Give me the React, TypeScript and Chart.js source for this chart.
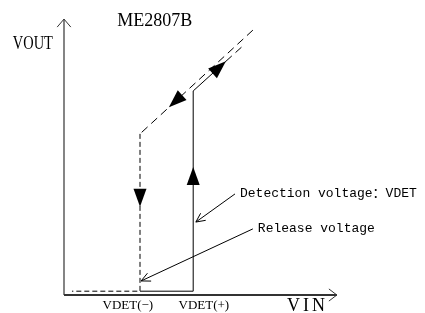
import React, { useEffect, useRef } from "react";
import { Chart, registerables } from "chart.js";

Chart.register(...registerables);

// ---- diagram values (VIN / VOUT in arbitrary units) ----
const VDET_MINUS = 2.0;
const VDET_PLUS = 3.4;
const VOUT_LOW = 0.1;

// axes (with open chevron heads)
const xAxisX = [0, 7.18];
const xAxisY = [0, 0];
const xHeadX = [6.97, 7.18, 6.97];
const xHeadY = [0.16, 0, -0.16];
const yAxisX = [0, 0];
const yAxisY = [0, 7.26];
const yHeadX = [-0.18, 0, 0.18];
const yHeadY = [7.05, 7.26, 7.05];

// rising branch (solid): low until VDET(+), jump, then follow VIN
const riseX = [VDET_MINUS, VDET_PLUS, VDET_PLUS, 4.26];
const riseY = [VOUT_LOW, VOUT_LOW, 5.37, 6.15];
const riseExtX = [4.26, 4.68];
const riseExtY = [6.15, 6.53];

// falling branch (dashed): follow VIN down to VDET(-), drop, then low
const fallX = [4.97, VDET_MINUS, VDET_MINUS, 0.21];
const fallY = [6.97, 4.24, VOUT_LOW, VOUT_LOW];

// filled direction arrows: tip + a point behind it on the path
const arrowTipX = [VDET_PLUS, VDET_MINUS, 2.76, 4.26];
const arrowTipY = [3.37, 2.32, 4.94, 6.15];
const arrowFromX = [VDET_PLUS, VDET_MINUS, 4.97, VDET_PLUS];
const arrowFromY = [0, 5, 6.97, 5.37];

// annotation leaders
const leaderLabels = ["Detection voltage：VDET", "Release voltage"];
const leaderStartX = [4.5, 4.97];
const leaderStartY = [2.66, 1.74];
const leaderEndX = [3.47, 2.03];
const leaderEndY = [1.92, 0.37];

// texts
const titleText = "ME2807B";
const yAxisTitle = "VOUT";
const xAxisTitle = "VIN";
const tickLabels = ["VDET(−)", "VDET(+)"];
const tickValues = [1.68, 3.68];

const zip = (xs: number[], ys: number[]) => xs.map((x, i) => ({ x, y: ys[i] }));

const diagramPlugin = {
  id: "diagram",
  afterDatasetsDraw(chart: any) {
    const ctx: CanvasRenderingContext2D = chart.ctx;
    const sx = chart.scales.x;
    const sy = chart.scales.y;
    const px = (v: number) => sx.getPixelForValue(v);
    const py = (v: number) => sy.getPixelForValue(v);
    ctx.save();
    ctx.fillStyle = "#000";
    ctx.strokeStyle = "#000";

    // filled arrows
    for (let i = 0; i < arrowTipX.length; i++) {
      const tx = px(arrowTipX[i]);
      const ty = py(arrowTipY[i]);
      const fx = px(arrowFromX[i]);
      const fy = py(arrowFromY[i]);
      let dx = tx - fx;
      let dy = ty - fy;
      const len = Math.hypot(dx, dy) || 1;
      dx /= len;
      dy /= len;
      const L = 18;
      const W = 6.5;
      const bx = tx - dx * L;
      const by = ty - dy * L;
      ctx.beginPath();
      ctx.moveTo(tx, ty);
      ctx.lineTo(bx - dy * W, by + dx * W);
      ctx.lineTo(bx + dy * W, by - dx * W);
      ctx.closePath();
      ctx.fill();
    }

    // leaders with open arrowheads
    ctx.lineWidth = 1;
    for (let i = 0; i < leaderLabels.length; i++) {
      const x0 = px(leaderStartX[i]);
      const y0 = py(leaderStartY[i]);
      const x1 = px(leaderEndX[i]);
      const y1 = py(leaderEndY[i]);
      ctx.beginPath();
      ctx.moveTo(x0, y0);
      ctx.lineTo(x1, y1);
      const ang = Math.atan2(y1 - y0, x1 - x0);
      const h = 10;
      for (const s of [-0.45, 0.45]) {
        ctx.moveTo(x1, y1);
        ctx.lineTo(x1 - h * Math.cos(ang + s), y1 - h * Math.sin(ang + s));
      }
      ctx.stroke();
      ctx.font = "13px 'Liberation Mono', 'Noto Sans CJK SC', monospace";
      ctx.textAlign = "left";
      ctx.textBaseline = "middle";
      ctx.fillText(leaderLabels[i], x0 + 5, y0 - 0.5);
    }

    // title
    ctx.font = "18px 'Liberation Serif', serif";
    ctx.textAlign = "center";
    ctx.textBaseline = "middle";
    ctx.fillText(titleText, px(2.39), py(7.21));

    // y title (condensed)
    ctx.save();
    ctx.translate(px(-0.82), py(6.6));
    ctx.scale(0.8, 1);
    ctx.fillText(yAxisTitle, 0, 0);
    ctx.restore();

    // x title (spaced)
    ctx.save();
    (ctx as any).letterSpacing = "3px";
    ctx.fillText(xAxisTitle, px(6.37) + 1.5, py(-0.29));
    ctx.restore();

    // tick labels
    ctx.font = "13px 'Liberation Serif', serif";
    for (let i = 0; i < tickLabels.length; i++) {
      ctx.fillText(tickLabels[i], px(tickValues[i]), py(-0.29));
    }
    ctx.restore();
  },
};

export default function App() {
  const ref = useRef<HTMLCanvasElement | null>(null);
  useEffect(() => {
    if (!ref.current) return;
    const line = (data: any[], opts: any = {}) => ({
      data,
      showLine: true,
      fill: false,
      tension: 0,
      pointRadius: 0,
      borderColor: "#000",
      borderWidth: 1,
      ...opts,
    });
    const chart = new Chart(ref.current, {
      type: "scatter",
      data: {
        datasets: [
          line(zip(xAxisX, xAxisY), { borderColor: "#333", borderWidth: 2 }),
          line(zip(xHeadX, xHeadY), { borderColor: "#333", borderWidth: 1 }),
          line(zip(yAxisX, yAxisY), { borderColor: "#333", borderWidth: 1.2 }),
          line(zip(yHeadX, yHeadY), { borderColor: "#333", borderWidth: 1 }),
          line(zip(riseX, riseY)),
          line(zip(riseExtX, riseExtY), { borderDash: [8, 5] }),
          line(zip(fallX.slice(0, 2), fallY.slice(0, 2)), { borderDash: [8, 5] }),
          line(zip(fallX.slice(1), fallY.slice(1)), { borderDash: [5, 3] }),
        ],
      },
      options: {
        animation: false,
        responsive: false,
        events: [],
        layout: { padding: 0 },
        plugins: { legend: { display: false }, tooltip: { enabled: false } },
        scales: {
          x: { type: "linear", min: -64 / 38, max: 361 / 38, display: false },
          y: { type: "linear", min: -18 / 38, max: 295 / 38, display: false },
        },
      },
      plugins: [diagramPlugin],
    } as any);
    return () => chart.destroy();
  }, []);
  return (
    <div style={{ position: "absolute", left: 0, top: 0, width: 425, height: 313, background: "#fff" }}>
      <canvas ref={ref} width={425} height={313} style={{ width: 425, height: 313 }} />
    </div>
  );
}
